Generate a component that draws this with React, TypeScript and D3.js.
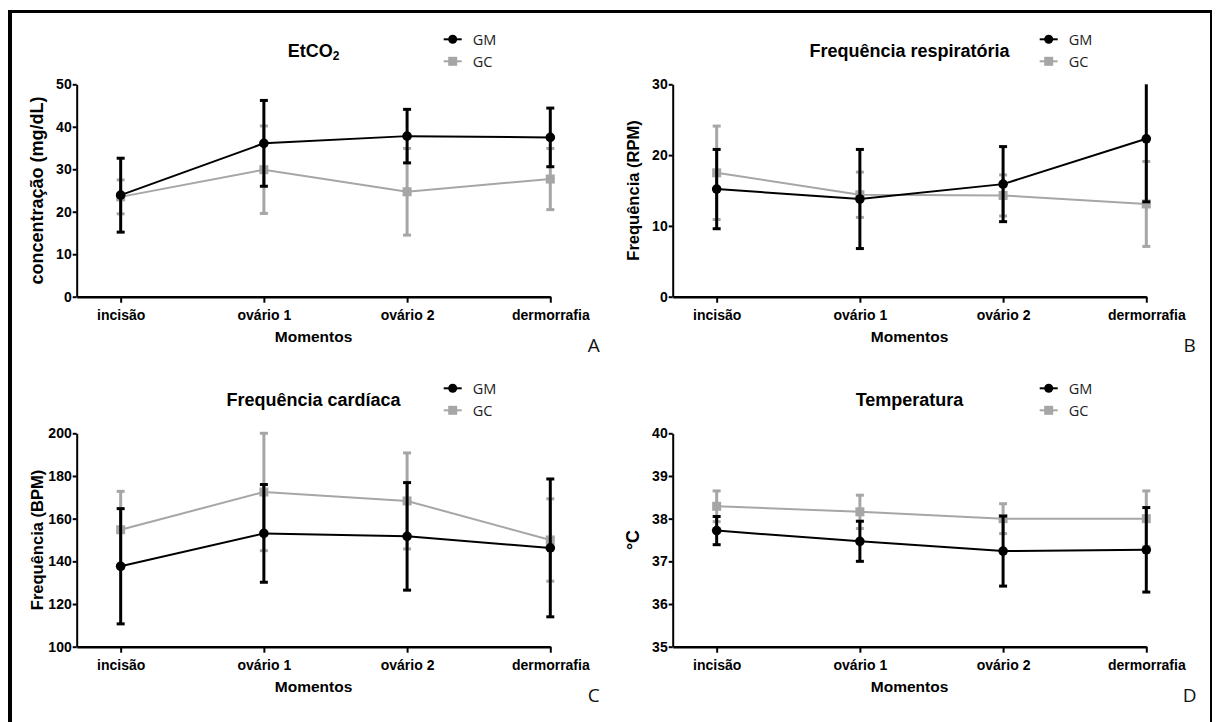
import { useEffect, useRef } from 'react'
import * as d3 from 'd3'

const categories = ['incisão', 'ovário 1', 'ovário 2', 'dermorrafia']

// EtCO2
const etco2GM = [23.9, 36.1, 37.8, 37.5]
const etco2GMsd = [8.7, 10.1, 6.3, 6.9]
const etco2GC = [23.5, 29.9, 24.7, 27.7]
const etco2GCsd = [4.0, 10.3, 10.2, 7.2]

// Frequência respiratória
const frGM = [15.2, 13.8, 15.9, 22.3]
const frGMsd = [5.6, 7.0, 5.3, 8.9]
const frGC = [17.5, 14.4, 14.3, 13.1]
const frGCsd = [6.6, 3.2, 2.9, 6.0]

// Frequência cardíaca
const fcGM = [137.7, 153.1, 151.7, 146.3]
const fcGMsd = [27.0, 22.9, 25.2, 32.3]
const fcGC = [154.8, 172.5, 168.3, 150.0]
const fcGCsd = [18.0, 27.5, 22.5, 19.3]

// Temperatura
const tGM = [37.72, 37.47, 37.24, 37.27]
const tGMsd = [0.33, 0.47, 0.82, 0.99]
const tGC = [38.29, 38.16, 38.0, 38.0]
const tGCsd = [0.36, 0.39, 0.35, 0.65]

const GRAY = '#a6a6a6'
const AXIS_FONT = "'Liberation Sans', Arial, sans-serif"
const LEGEND_FONT = "'Open Sans', sans-serif"

export default function App() {
  const ref = useRef<SVGSVGElement>(null)

  useEffect(() => {
    const svg = d3.select(ref.current)
    svg.selectAll('*').remove()

    // outer frame
    svg.append('line').attr('x1', 10).attr('x2', 10).attr('y1', 10).attr('y2', 722)
      .attr('stroke', '#000').attr('stroke-width', 4)
    svg.append('line').attr('x1', 8).attr('x2', 1212).attr('y1', 11.5).attr('y2', 11.5)
      .attr('stroke', '#000').attr('stroke-width', 3)
    svg.append('line').attr('x1', 1211).attr('x2', 1211).attr('y1', 10).attr('y2', 722)
      .attr('stroke', '#000').attr('stroke-width', 2)

    const panels = [
      { x0: 76.7, top: 84.3, bottom: 296.7, domain: [0, 50], ticks: [0, 10, 20, 30, 40, 50],
        title: 'EtCO', sub: '2', ylabel: 'concentração (mg/dL)', ysize: 18, letter: 'A',
        gm: etco2GM, gmsd: etco2GMsd, gc: etco2GC, gcsd: etco2GCsd },
      { x0: 672.7, top: 84.3, bottom: 296.7, domain: [0, 30], ticks: [0, 10, 20, 30],
        title: 'Frequência respiratória', sub: '', ylabel: 'Frequência (RPM)', ysize: 16.5, letter: 'B',
        gm: frGM, gmsd: frGMsd, gc: frGC, gcsd: frGCsd },
      { x0: 76.7, top: 433.3, bottom: 646.7, domain: [100, 200], ticks: [100, 120, 140, 160, 180, 200],
        title: 'Frequência cardíaca', sub: '', ylabel: 'Frequência (BPM)', ysize: 16.5, letter: 'C',
        gm: fcGM, gmsd: fcGMsd, gc: fcGC, gcsd: fcGCsd },
      { x0: 672.7, top: 433.3, bottom: 646.7, domain: [35, 40], ticks: [35, 36, 37, 38, 39, 40],
        title: 'Temperatura', sub: '', ylabel: '°C', ysize: 18, letter: 'D',
        gm: tGM, gmsd: tGMsd, gc: tGC, gcsd: tGCsd },
    ]

    panels.forEach(p => {
      const g = svg.append('g')
      const x1 = p.x0 + 473.6
      const x = d3.scaleLinear().domain([-0.307, 3]).range([p.x0, x1])
      const y = d3.scaleLinear().domain(p.domain).range([p.bottom, p.top]).clamp(true)

      // y axis
      const yAx = g.append('g')
        .attr('transform', `translate(${p.x0},0)`)
        .call(d3.axisLeft(y).tickValues(p.ticks).tickFormat(d3.format('d'))
          .tickSize(4).tickSizeOuter(0).tickPadding(1))
      yAx.select('.domain').attr('stroke-width', 2)
      yAx.selectAll('.tick line').attr('stroke-width', 2)
      yAx.selectAll('text').attr('font-family', AXIS_FONT).attr('font-weight', 'bold')
        .attr('font-size', 14).attr('fill', '#000')

      // x axis
      const xAx = g.append('g')
        .attr('transform', `translate(0,${p.bottom})`)
        .call(d3.axisBottom(x).tickValues([0, 1, 2, 3]).tickFormat((d: any) => categories[d])
          .tickSize(6).tickSizeOuter(0).tickPadding(7))
      xAx.select('.domain').attr('stroke-width', 2.5)
      xAx.selectAll('.tick line').attr('stroke-width', 2)
      xAx.selectAll('text').attr('font-family', AXIS_FONT).attr('font-weight', 'bold')
        .attr('font-size', 14).attr('fill', '#000')

      const cx = (p.x0 + x1) / 2

      // axis titles
      g.append('text').attr('x', cx).attr('y', p.bottom + 40).attr('text-anchor', 'middle')
        .attr('dominant-baseline', 'central')
        .attr('font-family', AXIS_FONT).attr('font-weight', 'bold').attr('font-size', 15.5)
        .text('Momentos')
      g.append('text')
        .attr('transform', `translate(${p.x0 - 40},${(p.top + p.bottom) / 2}) rotate(-90)`)
        .attr('text-anchor', 'middle').attr('dominant-baseline', 'central')
        .attr('font-family', AXIS_FONT).attr('font-weight', 'bold').attr('font-size', p.ysize)
        .text(p.ylabel)

      // chart title
      const t = g.append('text').attr('x', cx).attr('y', p.top - 33).attr('text-anchor', 'middle')
        .attr('dominant-baseline', 'central')
        .attr('font-family', AXIS_FONT).attr('font-weight', 'bold').attr('font-size', 18)
      t.append('tspan').text(p.title)
      if (p.sub) t.append('tspan').attr('dy', 5).attr('font-size', 12).text(p.sub)

      // panel letter
      g.append('text').attr('x', p.x0 + 517).attr('y', p.bottom + 48).attr('text-anchor', 'middle')
        .attr('dominant-baseline', 'central')
        .attr('font-family', LEGEND_FONT).attr('font-size', 19).attr('fill', '#111')
        .text(p.letter)

      // series
      const series = [
        { vals: p.gc, sd: p.gcsd, color: GRAY, shape: 'square' },
        { vals: p.gm, sd: p.gmsd, color: '#000', shape: 'circle' },
      ]
      series.forEach(s => {
        const line = d3.line<number>().x((_, i) => x(i)).y(d => y(d))
        g.append('path').datum(s.vals).attr('d', line).attr('fill', 'none')
          .attr('stroke', s.color).attr('stroke-width', 2)
        s.vals.forEach((v, i) => {
          const hi = y(v + s.sd[i])
          const lo = y(v - s.sd[i])
          g.append('line').attr('x1', x(i)).attr('x2', x(i)).attr('y1', hi).attr('y2', lo)
            .attr('stroke', s.color).attr('stroke-width', 3)
          ;[v + s.sd[i], v - s.sd[i]].forEach(e => {
            if (e > p.domain[1] || e < p.domain[0]) return
            g.append('line').attr('x1', x(i) - 4).attr('x2', x(i) + 4).attr('y1', y(e)).attr('y2', y(e))
              .attr('stroke', s.color).attr('stroke-width', 3)
          })
          if (s.shape === 'circle') {
            g.append('circle').attr('cx', x(i)).attr('cy', y(v)).attr('r', 4.8).attr('fill', s.color)
          } else {
            g.append('rect').attr('x', x(i) - 4.5).attr('y', y(v) - 4.5).attr('width', 9).attr('height', 9)
              .attr('fill', s.color)
          }
        })
      })

      // legend
      const lx = p.x0 + 376
      const legend = [
        { name: 'GM', color: '#000', shape: 'circle', dy: -45 },
        { name: 'GC', color: GRAY, shape: 'square', dy: -23 },
      ]
      legend.forEach(l => {
        const ly = p.top + l.dy
        g.append('line').attr('x1', lx - 9).attr('x2', lx + 9).attr('y1', ly).attr('y2', ly)
          .attr('stroke', l.color).attr('stroke-width', 2)
        if (l.shape === 'circle') {
          g.append('circle').attr('cx', lx).attr('cy', ly).attr('r', 4.5).attr('fill', l.color)
        } else {
          g.append('rect').attr('x', lx - 4.5).attr('y', ly - 4.5).attr('width', 9).attr('height', 9)
            .attr('fill', l.color)
        }
        g.append('text').attr('x', lx + 20).attr('y', ly).attr('dominant-baseline', 'central')
          .attr('font-family', LEGEND_FONT).attr('font-size', 14.5).attr('fill', '#222')
          .text(l.name)
      })
    })
  }, [])

  return (
    <svg ref={ref} width={1216} height={722}
      style={{ position: 'absolute', left: 0, top: 0, display: 'block', background: '#fff' }} />
  )
}
